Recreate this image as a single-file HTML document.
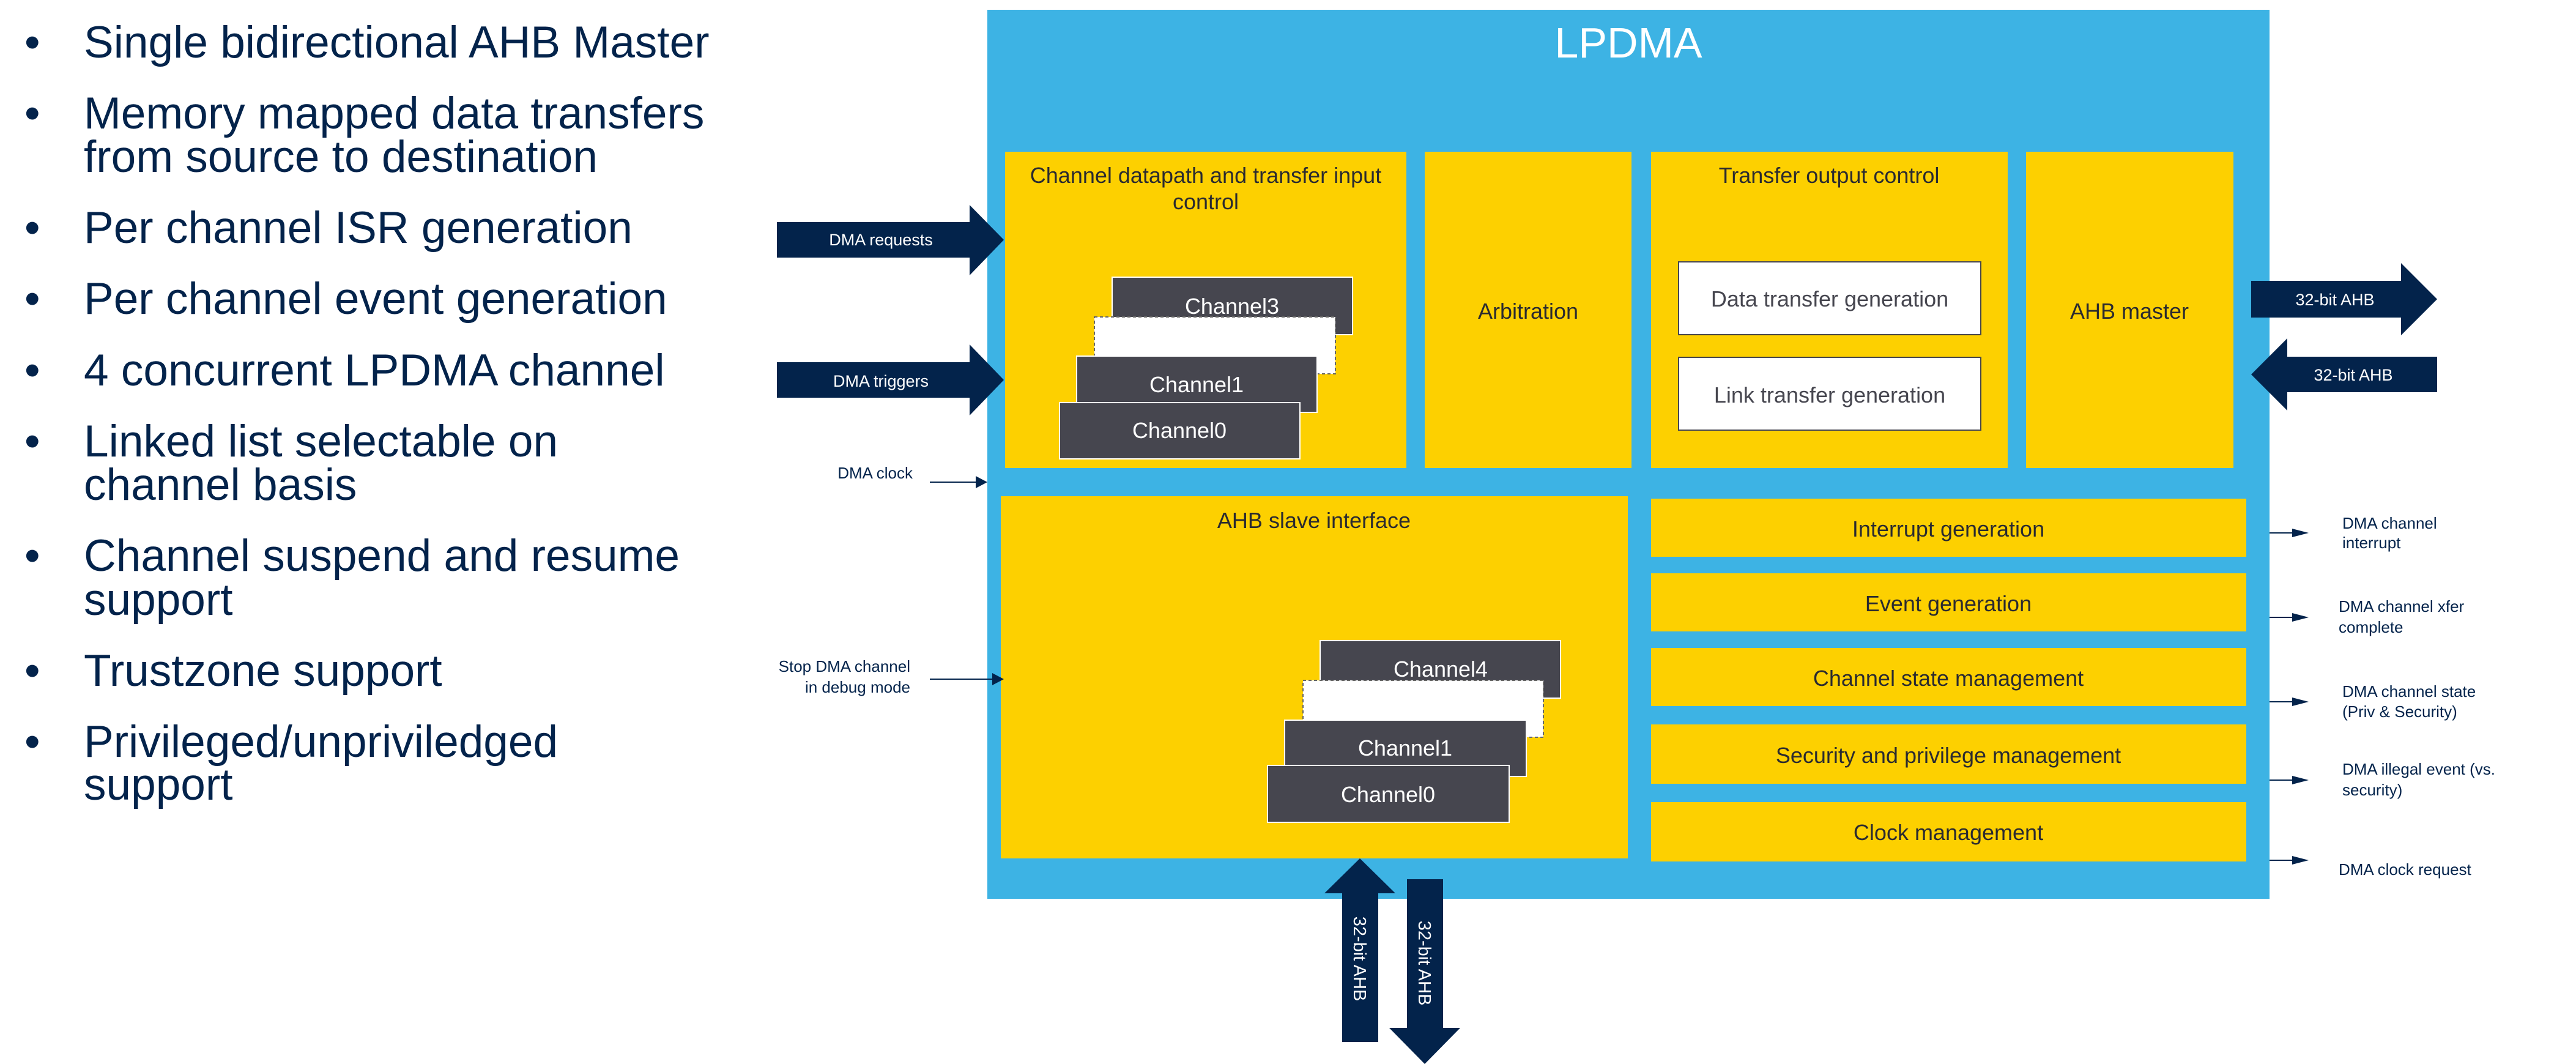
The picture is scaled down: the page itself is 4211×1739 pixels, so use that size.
<!DOCTYPE html>
<html><head><meta charset="utf-8"><style>
html,body{margin:0;padding:0;background:#fff;}
svg{display:block;}
text{font-family:"Liberation Sans",Arial,sans-serif;}
</style></head><body>
<svg width="4211" height="1739" viewBox="0 0 4211 1739" xmlns="http://www.w3.org/2000/svg">
<g fill="#03234b" font-size="73">
<text x="40" y="94">•</text><text x="137" y="94">Single bidirectional AHB Master</text>
<text x="40" y="210">•</text><text x="137" y="210">Memory mapped data transfers</text><text x="137" y="281">from source to destination</text>
<text x="40" y="397">•</text><text x="137" y="397">Per channel ISR generation</text>
<text x="40" y="513">•</text><text x="137" y="513">Per channel event generation</text>
<text x="40" y="630">•</text><text x="137" y="630">4 concurrent LPDMA channel</text>
<text x="40" y="746">•</text><text x="137" y="746">Linked list selectable on</text><text x="137" y="817">channel basis</text>
<text x="40" y="933">•</text><text x="137" y="933">Channel suspend and resume</text><text x="137" y="1005">support</text>
<text x="40" y="1121">•</text><text x="137" y="1121">Trustzone support</text>
<text x="40" y="1237">•</text><text x="137" y="1237">Privileged/unpriviledged</text><text x="137" y="1307">support</text>
</g>

<rect x="1614" y="16" width="2096" height="1453" fill="#3db3e4"/>
<text x="2662" y="94" font-size="70" fill="#fff" text-anchor="middle">LPDMA</text>

<g fill="#fdd000">
<rect x="1643" y="248" width="656" height="517"/>
<rect x="2329" y="248" width="338" height="517"/>
<rect x="2699" y="248" width="583" height="517"/>
<rect x="3312" y="248" width="339" height="517"/>
<rect x="1636" y="811" width="1025" height="592"/>
<rect x="2699" y="815" width="973" height="95"/>
<rect x="2699" y="937" width="973" height="95"/>
<rect x="2699" y="1059" width="973" height="95"/>
<rect x="2699" y="1184" width="973" height="97"/>
<rect x="2699" y="1311" width="973" height="97"/>
</g>
<g fill="#2a2a30" font-size="36" text-anchor="middle">
<text x="1971" y="299">Channel datapath and transfer input</text>
<text x="1971" y="342">control</text>
<text x="2498" y="521">Arbitration</text>
<text x="2990" y="299">Transfer output control</text>
<text x="3481" y="521">AHB master</text>
<text x="2148" y="863">AHB slave interface</text>
<text x="3185" y="877">Interrupt generation</text>
<text x="3185" y="999">Event generation</text>
<text x="3185" y="1121">Channel state management</text>
<text x="3185" y="1247">Security and privilege management</text>
<text x="3185" y="1373">Clock management</text>
</g>
<rect x="2744" y="428" width="494" height="119" fill="#fff" stroke="#46464f" stroke-width="2"/>
<rect x="2744" y="584" width="494" height="119" fill="#fff" stroke="#46464f" stroke-width="2"/>
<g fill="#46464f" font-size="36" text-anchor="middle">
<text x="2991" y="501">Data transfer generation</text>
<text x="2991" y="658">Link transfer generation</text>
</g>

<g stroke="#fff" stroke-width="2">
<rect x="1818" y="453" width="393" height="94" fill="#46464f"/>
<rect x="1789" y="518" width="394" height="93" fill="#fff" stroke="#666" stroke-dasharray="5,4"/>
<rect x="1760" y="582" width="393" height="92" fill="#46464f"/>
<rect x="1732" y="658" width="393" height="92" fill="#46464f"/>
<rect x="2158" y="1047" width="393" height="94" fill="#46464f"/>
<rect x="2130" y="1112" width="393" height="93" fill="#fff" stroke="#666" stroke-dasharray="5,4"/>
<rect x="2100" y="1177" width="395" height="92" fill="#46464f"/>
<rect x="2072" y="1251" width="395" height="93" fill="#46464f"/>
</g>
<g fill="#fff" font-size="36" text-anchor="middle">
<text x="2014" y="513">Channel3</text>
<text x="1956" y="641">Channel1</text>
<text x="1928" y="716">Channel0</text>
<text x="2355" y="1106">Channel4</text>
<text x="2297" y="1235">Channel1</text>
<text x="2269" y="1311">Channel0</text>
</g>

<g fill="#03234b">
<polygon points="1270,363 1585,363 1585,335 1641,392 1585,450 1585,421 1270,421"/>
<polygon points="1270,592 1585,592 1585,563 1641,621 1585,679 1585,650 1270,650"/>
<polygon points="3680,459 3925,459 3925,430 3984,489 3925,548 3925,519 3680,519"/>
<polygon points="3984,583 3739,583 3739,553 3680,612 3739,671 3739,641 3984,641"/>
<polygon points="2223,1403 2281,1460 2253,1460 2253,1703 2194,1703 2194,1460 2165,1460"/>
<polygon points="2300,1437 2359,1437 2359,1680 2387,1680 2329,1739 2271,1680 2300,1680"/>
</g>
<g fill="#fff" font-size="27" text-anchor="middle">
<text x="1440" y="401">DMA requests</text>
<text x="1440" y="632">DMA triggers</text>
<text x="3817" y="499">32-bit AHB</text>
<text x="3847" y="622">32-bit AHB</text>
<text transform="translate(2213,1567) rotate(90)" font-size="29">32-bit AHB</text>
<text transform="translate(2319,1574) rotate(90)" font-size="29">32-bit AHB</text>
</g>

<g stroke="#03234b" stroke-width="2">
<line x1="1520" y1="788" x2="1600" y2="788"/>
<line x1="1520" y1="1110" x2="1628" y2="1110"/>
<line x1="3710" y1="871" x2="3750" y2="871"/>
<line x1="3710" y1="1009" x2="3750" y2="1009"/>
<line x1="3710" y1="1147" x2="3750" y2="1147"/>
<line x1="3710" y1="1275" x2="3750" y2="1275"/>
<line x1="3710" y1="1406" x2="3750" y2="1406"/>
</g>
<g fill="#03234b">
<polygon points="1595,778 1614,788 1595,798"/>
<polygon points="1622,1100 1641,1110 1622,1120"/>
<polygon points="3747,864 3774,871 3747,878"/>
<polygon points="3747,1002 3774,1009 3747,1016"/>
<polygon points="3747,1140 3774,1147 3747,1154"/>
<polygon points="3747,1268 3774,1275 3747,1282"/>
<polygon points="3747,1399 3774,1406 3747,1413"/>
</g>
<g fill="#03234b" font-size="26">
<text x="1492" y="782" text-anchor="end">DMA clock</text>
<text x="1488" y="1098" text-anchor="end">Stop DMA channel</text>
<text x="1488" y="1132" text-anchor="end">in debug mode</text>
<text x="3829" y="864">DMA channel</text><text x="3829" y="896">interrupt</text>
<text x="3823" y="1000">DMA channel xfer</text><text x="3823" y="1034">complete</text>
<text x="3829" y="1139">DMA channel state</text><text x="3829" y="1172">(Priv &amp; Security)</text>
<text x="3829" y="1266">DMA illegal event (vs.</text><text x="3829" y="1300">security)</text>
<text x="3823" y="1430">DMA clock request</text>
</g>
</svg>
</body></html>
